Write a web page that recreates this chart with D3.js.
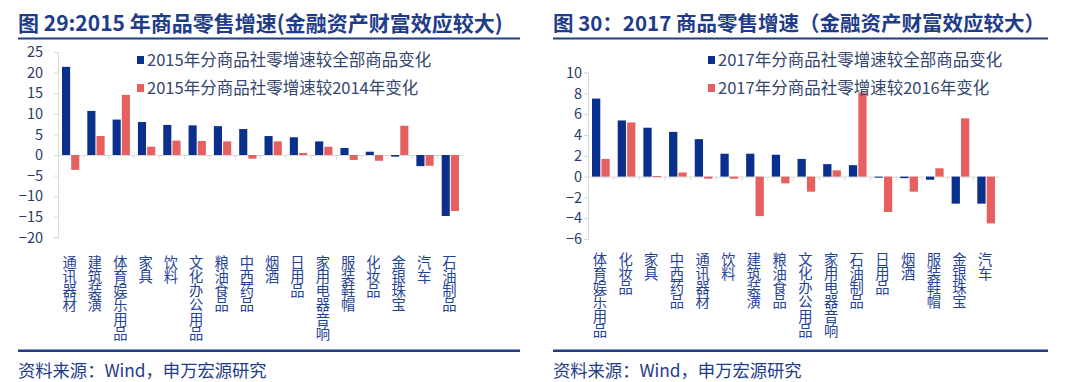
<!DOCTYPE html>
<html>
<head>
<meta charset="utf-8">
<script src="https://cdn.jsdelivr.net/npm/d3@7"></script>
<style>
  body { margin: 0; background: #fff; }
  svg { display: block; font-family: "Noto Sans CJK SC", "Noto Sans", sans-serif; }
</style>
</head>
<body>
<script>
// left chart: 2015
var categories15 = ['通讯器材', '建筑装潢', '体育娱乐用品', '家具', '饮料', '文化办公用品', '粮油食品', '中西药品',
  '烟酒', '日用品', '家用电器音响', '服装鞋帽', '化妆品', '金银珠宝', '汽车', '石油制品'];
var vsAll15 = [21.4, 10.7, 8.6, 8.0, 7.3, 7.2, 7.0, 6.3, 4.6, 4.3, 3.3, 1.7, 0.8, -0.4, -2.7, -14.8];
var vsPrev15 = [-3.6, 4.6, 14.6, 2.0, 3.5, 3.4, 3.3, -0.9, 3.3, 0.5, 2.0, -1.2, -1.4, 7.1, -2.6, -13.6];
var ticks15 = [-20, -15, -10, -5, 0, 5, 10, 15, 20, 25];

// right chart: 2017
var categories17 = ['体育娱乐用品', '化妆品', '家具', '中西药品', '通讯器材', '饮料', '建筑装潢', '粮油食品',
  '文化办公用品', '家用电器音响', '石油制品', '日用品', '烟酒', '服装鞋帽', '金银珠宝', '汽车'];
var vsAll17 = [7.5, 5.4, 4.7, 4.3, 3.6, 2.2, 2.2, 2.1, 1.7, 1.2, 1.1, -0.05, -0.15, -0.3, -2.6, -2.6];
var vsPrev17 = [1.7, 5.2, 0.05, 0.4, -0.2, -0.2, -3.8, -0.65, -1.45, 0.6, 8.1, -3.4, -1.45, 0.8, 5.6, -4.5];
var ticks17 = [-6, -4, -2, 0, 2, 4, 6, 8, 10];

var blue = '#0b2f8c';
var red = '#e5605e';
var navy = '#1f3c88';

var svg = d3.select('body').append('svg').attr('width', 1080).attr('height', 382);

function drawPanel(opt) {
  var g = svg.append('g');

  // title + rules
  g.append('text').attr('x', opt.left).attr('y', 31)
    .attr('font-size', opt.titleSize).attr('font-weight', 'bold').attr('fill', navy)
    .text(opt.title);
  g.append('rect').attr('x', opt.left).attr('y', 37.5).attr('width', opt.ruleW).attr('height', 2).attr('fill', navy);
  g.append('rect').attr('x', opt.left).attr('y', 349.5).attr('width', opt.ruleW).attr('height', 2.5).attr('fill', navy);
  g.append('text').attr('x', opt.left).attr('y', 377)
    .attr('font-size', 17.3).attr('fill', navy)
    .text('资料来源：Wind，申万宏源研究');

  var x = d3.scaleBand().domain(opt.cats).range(opt.xr);
  var x1 = d3.scaleBand().domain([0, 1]).range([4, x.bandwidth() - 4]).paddingInner(0.12);
  var y = d3.scaleLinear().domain(opt.yd).range(opt.yr);

  // y axis
  var yAxis = d3.axisLeft(y).tickValues(opt.ticks).tickSize(4).tickPadding(opt.tickPad);
  var ya = g.append('g').attr('transform', 'translate(' + opt.xr[0] + ',0)').call(yAxis);
  ya.select('.domain').attr('stroke', '#d9d9d9');
  ya.selectAll('.tick line').attr('stroke', '#d9d9d9');
  ya.selectAll('.tick text').attr('font-size', 14.5).attr('fill', '#2b3a67')
    .attr('font-family', '"Noto Sans CJK SC", sans-serif');

  // zero line with category ticks
  var xa = g.append('g').attr('transform', 'translate(0,' + y(0) + ')')
    .call(d3.axisBottom(x).tickSize(0).tickFormat(''));
  xa.select('.domain').attr('stroke', '#d9d9d9');
  xa.selectAll('.sep').data(opt.cats.slice(1)).enter().append('line')
    .attr('x1', function(d) { return x(d); }).attr('x2', function(d) { return x(d); })
    .attr('y1', 0).attr('y2', 4).attr('stroke', '#d9d9d9');

  // bars
  var series = [opt.a, opt.b];
  var colors = [blue, red];
  series.forEach(function(vals, si) {
    g.append('g').selectAll('rect').data(vals).enter().append('rect')
      .attr('x', function(d, i) { return x(opt.cats[i]) + x1(si); })
      .attr('width', x1.bandwidth())
      .attr('y', function(d) { return y(Math.max(0, d)); })
      .attr('height', function(d) { return Math.max(1, Math.abs(y(d) - y(0))); })
      .attr('fill', colors[si]);
  });

  // vertical category labels (upright CJK, top to bottom)
  g.append('g').selectAll('text').data(opt.cats).enter().append('text')
    .attr('x', function(d) { return x(d) + x.bandwidth() / 2 - 1; })
    .attr('y', opt.labTop)
    .style('writing-mode', 'vertical-rl')
    .attr('font-size', 14.3).attr('fill', '#1f4396')
    .text(function(d) { return d; });

  // legend
  var names = [opt.nameA, opt.nameB];
  names.forEach(function(n, k) {
    g.append('rect').attr('x', opt.legX).attr('y', 56 + k * 28).attr('width', 7).attr('height', 8).attr('fill', colors[k]);
    g.append('text').attr('x', opt.legX + 10).attr('y', 66 + k * 28)
      .attr('font-size', 16.5).attr('fill', '#34456e').text(n);
  });
}

drawPanel({
  left: 18, ruleW: 502, titleSize: 21,
  title: '图 29:2015 年商品零售增速(金融资产财富效应较大)',
  cats: categories15, a: vsAll15, b: vsPrev15, ticks: ticks15,
  xr: [58, 463], yd: [-20, 25], yr: [237.4, 52], tickPad: 11, labTop: 255,
  legX: 137,
  nameA: '2015年分商品社零增速较全部商品变化',
  nameB: '2015年分商品社零增速较2014年变化'
});

drawPanel({
  left: 553, ruleW: 495, titleSize: 20.5,
  title: '图 30：2017 商品零售增速（金融资产财富效应较大）',
  cats: categories17, a: vsAll17, b: vsPrev17, ticks: ticks17,
  xr: [588, 999], yd: [-6, 10], yr: [239, 72.6], tickPad: 2, labTop: 252,
  legX: 708,
  nameA: '2017年分商品社零增速较全部商品变化',
  nameB: '2017年分商品社零增速较2016年变化'
});
</script>
</body>
</html>
